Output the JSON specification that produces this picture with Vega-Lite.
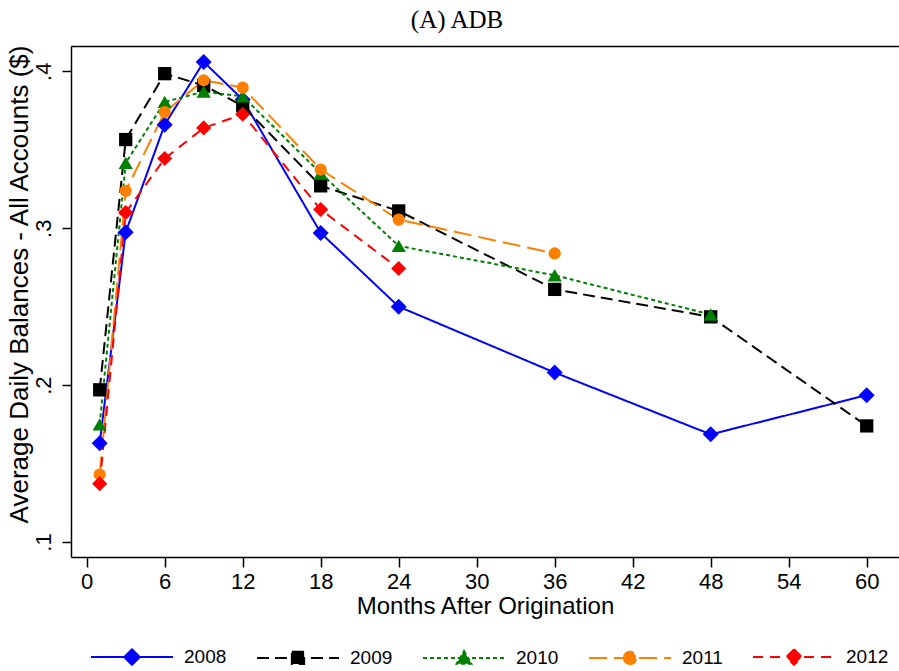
{
  "$schema": "https://vega.github.io/schema/vega-lite/v6.json",
  "width": 828,
  "height": 511,
  "autosize": {"type": "none"},
  "padding": {"left": 71, "top": 46, "right": 0, "bottom": 114},
  "title": {"text": "(A) ADB", "font": "Liberation Serif", "fontSize": 25, "fontWeight": "normal", "color": "#000", "anchor": "middle", "frame": "group", "dx": -28, "offset": 11},
  "data": {"values": [
    {"year": "2008", "month": 1, "value": 0.163},
    {"year": "2008", "month": 3, "value": 0.2975},
    {"year": "2008", "month": 6, "value": 0.366},
    {"year": "2008", "month": 9, "value": 0.406},
    {"year": "2008", "month": 12, "value": 0.382},
    {"year": "2008", "month": 18, "value": 0.297},
    {"year": "2008", "month": 24, "value": 0.250},
    {"year": "2008", "month": 36, "value": 0.208},
    {"year": "2008", "month": 48, "value": 0.1686},
    {"year": "2008", "month": 60, "value": 0.1936},
    {"year": "2009", "month": 1, "value": 0.197},
    {"year": "2009", "month": 3, "value": 0.3565},
    {"year": "2009", "month": 6, "value": 0.3985},
    {"year": "2009", "month": 9, "value": 0.391},
    {"year": "2009", "month": 12, "value": 0.378},
    {"year": "2009", "month": 18, "value": 0.327},
    {"year": "2009", "month": 24, "value": 0.311},
    {"year": "2009", "month": 36, "value": 0.261},
    {"year": "2009", "month": 48, "value": 0.2435},
    {"year": "2009", "month": 60, "value": 0.174},
    {"year": "2010", "month": 1, "value": 0.175},
    {"year": "2010", "month": 3, "value": 0.3416},
    {"year": "2010", "month": 6, "value": 0.3805},
    {"year": "2010", "month": 9, "value": 0.387},
    {"year": "2010", "month": 12, "value": 0.384},
    {"year": "2010", "month": 18, "value": 0.335},
    {"year": "2010", "month": 24, "value": 0.2887},
    {"year": "2010", "month": 36, "value": 0.270},
    {"year": "2010", "month": 48, "value": 0.245},
    {"year": "2011", "month": 1, "value": 0.143},
    {"year": "2011", "month": 3, "value": 0.3238},
    {"year": "2011", "month": 6, "value": 0.374},
    {"year": "2011", "month": 9, "value": 0.3943},
    {"year": "2011", "month": 12, "value": 0.3896},
    {"year": "2011", "month": 18, "value": 0.3374},
    {"year": "2011", "month": 24, "value": 0.3055},
    {"year": "2011", "month": 36, "value": 0.2839},
    {"year": "2012", "month": 1, "value": 0.1372},
    {"year": "2012", "month": 3, "value": 0.310},
    {"year": "2012", "month": 6, "value": 0.3444},
    {"year": "2012", "month": 9, "value": 0.3639},
    {"year": "2012", "month": 12, "value": 0.3726},
    {"year": "2012", "month": 18, "value": 0.3119},
    {"year": "2012", "month": 24, "value": 0.2743}
  ]},
  "encoding": {
    "y": {
      "field": "value", "type": "quantitative",
      "scale": {"domain": [0.09044, 0.41613], "nice": false, "zero": false},
      "axis": {
        "values": [0.1, 0.2, 0.3, 0.4],
        "labelExpr": "replace(format(datum.value, '.1f'), '0.', '.')",
        "title": "Average Daily Balances - All Accounts ($)",
        "titleFontSize": 26, "titleY": 238,
        "labelAngle": 270, "labelAlign": "center", "labelBaseline": "alphabetic",
        "labelPadding": 12, "tickSize": 9, "titlePadding": 0, "grid": false
      }
    },
    "color": {
      "field": "year", "type": "nominal",
      "scale": {"domain": ["2008", "2009", "2010", "2011", "2012"], "range": ["#0000ff", "#000000", "#008000", "#ff8000", "#ff0000"]},
      "legend": {
        "orient": "none", "legendX": 19, "legendY": 569, "direction": "horizontal",
        "title": null, "padding": 0, "symbolSize": 6724, "symbolStrokeWidth": 2,
        "labelFont": "Liberation Sans", "labelFontSize": 19, "labelColor": "#000",
        "labelOffset": 10, "columnPadding": 26,
        "encode": {
          "symbols": {
            "update": {
              "shape": {"signal": "datum.value === '2008' ? 'M-1,0H1M0,-0.19L0.19,0L0,0.19L-0.19,0Z' : datum.value === '2009' ? 'M-1,0H1M-0.15,-0.15H0.15V0.15H-0.15Z' : datum.value === '2010' ? 'M-1,0H1M0,-0.17L0.18,0.14L-0.18,0.14Z' : datum.value === '2011' ? 'M-1,0H1M-0.15,0A0.15,0.15 0 1 0 0.15,0A0.15,0.15 0 1 0 -0.15,0Z' : 'M-1,0H1M0,-0.19L0.19,0L0,0.19L-0.19,0Z'"},
              "size": {"value": 6724},
              "fill": {"scale": "color", "field": "value"},
              "stroke": {"scale": "color", "field": "value"},
              "strokeDash": {"scale": "strokeDash", "field": "value"},
              "strokeWidth": {"value": 2},
              "opacity": {"value": 1},
              "fillOpacity": {"value": 1},
              "strokeOpacity": {"value": 1}
            }
          }
        }
      }
    }
  },
  "layer": [
    {
      "mark": {"type": "line", "strokeWidth": 2},
      "encoding": {
        "x": {
          "field": "month", "type": "quantitative",
          "scale": {"domain": [-1.208, 62.485], "nice": false, "zero": false},
          "axis": {"values": [0, 6, 12, 18, 24, 30, 36, 42, 48, 54, 60], "title": "Months After Origination", "titleFontSize": 24, "labelAngle": 0, "tickSize": 10, "labelPadding": 4, "titlePadding": 2, "grid": false}
        },
        "strokeDash": {
          "field": "year", "type": "nominal",
          "scale": {"domain": ["2012", "2011", "2010", "2009", "2008"], "range": [[10, 7], [18, 7], [4, 3], [12, 6], [1, 0]]},
          "legend": null
        }
      }
    },
    {
      "mark": {"type": "point", "filled": true, "opacity": 1, "strokeWidth": 0},
      "encoding": {
        "x": {
          "field": "month", "type": "quantitative",
          "axis": {"orient": "top", "labels": false, "ticks": false, "title": null, "grid": false, "domain": true}
        },
        "shape": {
          "field": "year", "type": "nominal",
          "scale": {"domain": ["2012", "2011", "2010", "2009", "2008"], "range": ["diamond", "circle", "triangle-up", "square", "diamond"]},
          "legend": null
        },
        "size": {
          "field": "year", "type": "nominal",
          "scale": {"domain": ["2011", "2009", "2010", "2012", "2008"], "range": [150, 256]},
          "legend": null
        }
      }
    }
  ],
  "resolve": {"axis": {"x": "independent"}},
  "config": {
    "view": {"stroke": null},
    "axis": {
      "labelFont": "Liberation Sans", "titleFont": "Liberation Sans",
      "labelColor": "#000", "titleColor": "#000", "domainColor": "#000", "tickColor": "#000",
      "domainWidth": 1.5, "tickWidth": 1.5, "titleFontWeight": "normal",
      "labelFontSize": 22, "titleFontSize": 23.5
    }
  }
}
